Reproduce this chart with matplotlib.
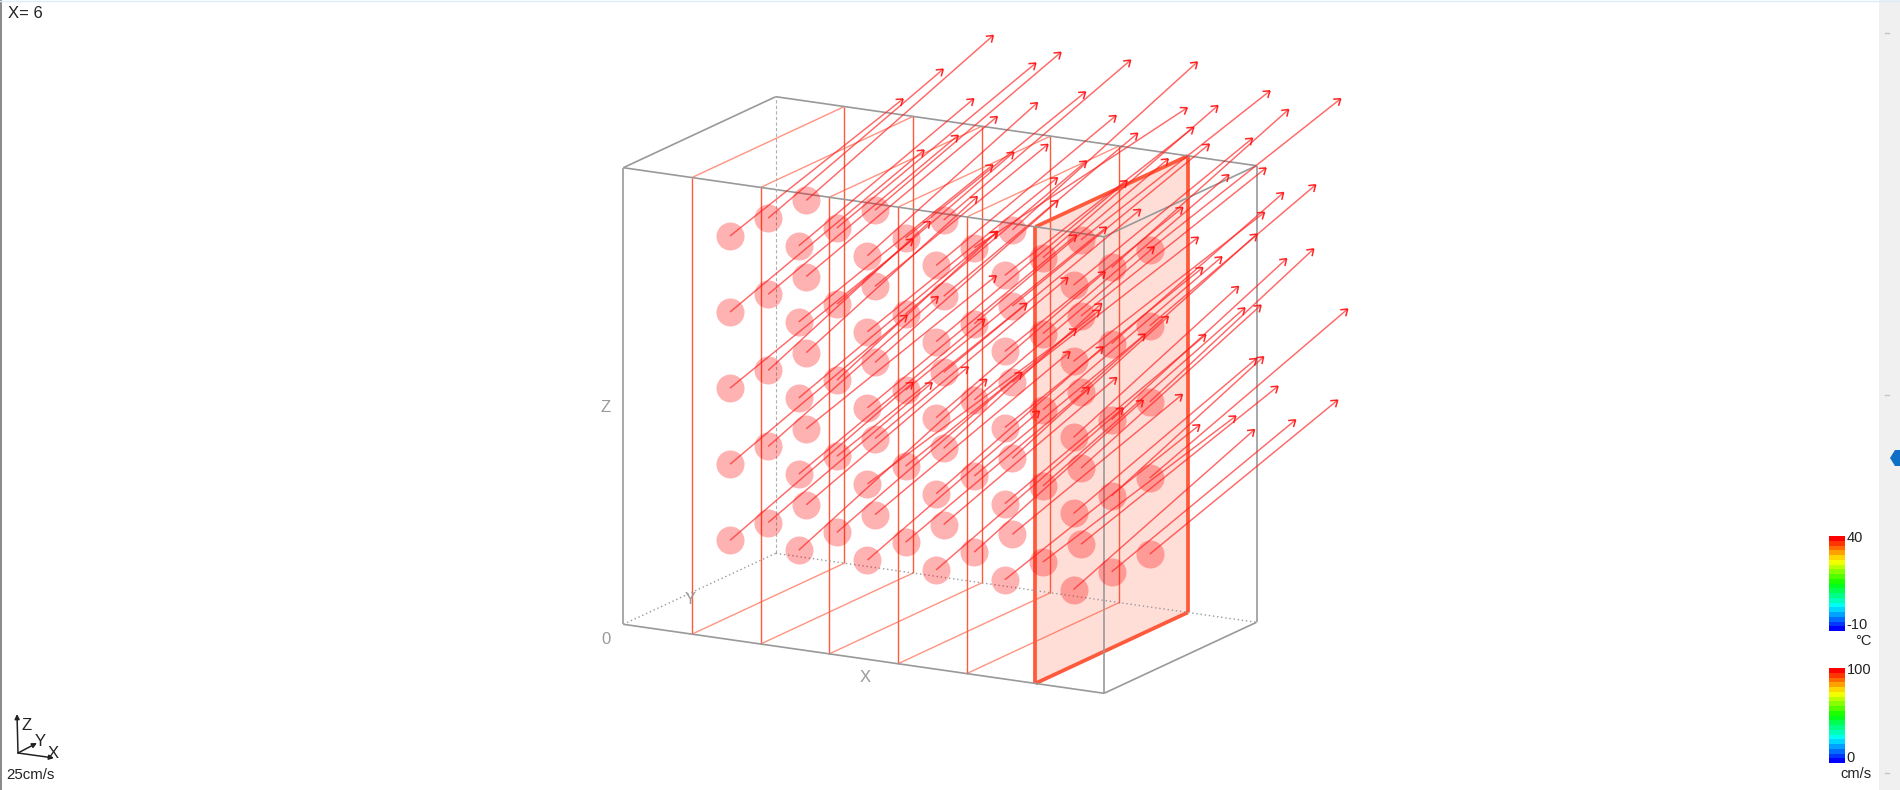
import numpy as np
import matplotlib
matplotlib.use("Agg")
import matplotlib.pyplot as plt
from matplotlib.collections import LineCollection
from matplotlib.colors import LinearSegmentedColormap, Normalize
from matplotlib.cm import ScalarMappable
from matplotlib.patches import Polygon, Rectangle

plt.rcParams['font.family'] = ['Liberation Sans', 'DejaVu Sans']

WIDTH, HEIGHT = 1900, 790

# box and grid, in model units
x_max, y_max, z_max = 7, 4, 6
x_slices = [1, 2, 3, 4, 5, 6]
y_points = [1, 2, 3]
z_points = [1, 2, 3, 4, 5]
current_x = 6

# arrow components, one block per Z level,
# rows are X = 1..6, columns are Y = 1..3
right_z1 = [[183, 164, 162], [188, 185, 195], [172, 184, 173],
            [187, 169, 170], [195, 193, 197], [181, 184, 188]]
up_z1 = [[158, 140, 138], [171, 160, 163], [149, 155, 147],
         [162, 152, 140], [155, 146, 158], [160, 152, 154]]
right_z2 = [[177, 170, 190], [186, 190, 193], [209, 194, 158],
            [167, 171, 156], [201, 202, 180], [183, 152, 198]]
up_z2 = [[149, 150, 153], [155, 153, 161], [155, 156, 145],
         [147, 142, 142], [169, 178, 163], [155, 139, 169]]
right_z3 = [[183, 162, 171], [198, 161, 183], [209, 201, 197],
            [169, 180, 186], [198, 179, 176], [165, 175, 164]]
up_z3 = [[149, 149, 156], [166, 149, 162], [173, 163, 163],
         [146, 153, 145], [160, 153, 158], [151, 161, 153]]
right_z4 = [[194, 190, 191], [194, 177, 173], [190, 181, 194],
            [191, 194, 197], [178, 186, 185], [191, 172, 166]]
up_z4 = [[162, 159, 160], [157, 152, 142], [154, 153, 163],
         [161, 165, 162], [144, 159, 148], [149, 151, 141]]
right_z5 = [[173, 175, 187], [175, 199, 186], [170, 180, 187],
            [180, 213, 185], [189, 175, 189], [179, 177, 191]]
up_z5 = [[137, 149, 165], [147, 165, 158], [153, 146, 160],
         [150, 140, 168], [148, 152, 149], [147, 158, 151]]

right_all = np.array([right_z1, right_z2, right_z3, right_z4, right_z5], float)
up_all = np.array([up_z1, up_z2, up_z3, up_z4, up_z5], float)

temp_range = [-10, 40]
speed_range = [0, 100]
rainbow = ["#0000ff", "#00ffff", "#00ff00", "#ffff00", "#ff0000"]

RED = "#ff2020"
SLICE = "#ff5a3c"
GREY = "#999999"


def project(x, y, z):
    """Oblique view used by the box: model units to picture pixels."""
    px = 623.3 + 480.8 * x / x_max + 152.4 * y / y_max
    py = 624.3 + 69.0 * x / x_max - 71.0 * y / y_max - 456.6 * z / z_max
    return px, py


def edge(p0, p1):
    return [project(*p0), project(*p1)]


fig = plt.figure(figsize=(WIDTH / 100, HEIGHT / 100), dpi=100)
ax = fig.add_axes([0, 0, 1, 1])
ax.set_xlim(0, WIDTH)
ax.set_ylim(HEIGHT, 0)
ax.axis("off")

# window frame around the plot
ax.add_patch(Rectangle((1879, 0), 21, HEIGHT, color="#f0f0f0", lw=0, zorder=0))
ax.add_patch(Rectangle((0, 0), 2, HEIGHT, color="#8c8c8c", lw=0, zorder=0))
ax.plot([0, WIDTH], [0.5, 0.5], color="#d8eef8", lw=1, zorder=0)
ax.add_patch(Polygon([(1890, 458), (1895, 450), (1900, 450), (1900, 466), (1895, 466)],
                     color="#0f6fc6", lw=0, zorder=1))
for ym in [33, 395, 773]:
    ax.plot([1885, 1889], [ym, ym], color="#c4c4c4", lw=1, zorder=1)

# selected slice
corners = [project(current_x, 0, 0), project(current_x, y_max, 0),
           project(current_x, y_max, z_max), project(current_x, 0, z_max)]
ax.add_patch(Polygon(corners, closed=True, facecolor=SLICE, alpha=0.2, lw=0, zorder=2))

# slice outlines
for xs in x_slices:
    uprights = [edge((xs, 0, 0), (xs, 0, z_max)), edge((xs, y_max, 0), (xs, y_max, z_max))]
    rails = [edge((xs, 0, 0), (xs, y_max, 0)), edge((xs, 0, z_max), (xs, y_max, z_max))]
    if xs == current_x:
        ax.add_collection(LineCollection(uprights + rails, colors=SLICE, linewidths=2.7, zorder=3))
    else:
        ax.add_collection(LineCollection(uprights, colors=SLICE, linewidths=1.0, zorder=3))
        ax.add_collection(LineCollection(rails, colors=SLICE, linewidths=1.0, alpha=0.65, zorder=3))

# box
solid = [edge((0, 0, 0), (x_max, 0, 0)), edge((0, 0, z_max), (x_max, 0, z_max)),
         edge((0, y_max, z_max), (x_max, y_max, z_max)), edge((0, 0, 0), (0, 0, z_max)),
         edge((x_max, 0, 0), (x_max, 0, z_max)), edge((x_max, y_max, 0), (x_max, y_max, z_max)),
         edge((0, 0, z_max), (0, y_max, z_max)), edge((x_max, 0, z_max), (x_max, y_max, z_max)),
         edge((x_max, 0, 0), (x_max, y_max, 0))]
ax.add_collection(LineCollection(solid, colors=GREY, linewidths=1.2, zorder=4))
ax.add_collection(LineCollection([edge((0, y_max, 0), (0, y_max, z_max))], colors="#b0b0b0",
                                 linewidths=0.8, linestyles=(0, (3, 2)), zorder=4))
ax.add_collection(LineCollection([edge((0, 0, 0), (0, y_max, 0)), edge((0, y_max, 0), (x_max, y_max, 0))],
                                 colors=GREY, linewidths=1.0, linestyles=(0, (1, 2)), zorder=4))

# points and arrows
zz, xx, yy = np.meshgrid(z_points, x_slices, y_points, indexing="ij")
px, py = project(xx.ravel(), yy.ravel(), zz.ravel())
ax.scatter(px, py, s=407, color="#ff0000", alpha=0.3, linewidths=0, zorder=5)

tip_x = px + right_all.ravel()
tip_y = py - up_all.ravel()
shafts = [[(a, b), (c, d)] for a, b, c, d in zip(px, py, tip_x, tip_y)]
ax.add_collection(LineCollection(shafts, colors=RED, linewidths=1.05, alpha=0.68, zorder=6))

heads = []
head_len = 7.5
for a, b, c, d in zip(px, py, tip_x, tip_y):
    ang = np.arctan2(b - d, a - c)
    for turn in [-0.6, 0.6]:
        heads.append([(c, d), (c + head_len * np.cos(ang + turn), d + head_len * np.sin(ang + turn))])
ax.add_collection(LineCollection(heads, colors="#ff1010", linewidths=1.1, alpha=0.9, zorder=7))

# axis names
ax.text(606, 407, "Z", color="#999999", fontsize=12, ha="center", va="center")
ax.text(606, 639, "0", color="#999999", fontsize=12, ha="center", va="center")
ax.text(865, 677, "X", color="#999999", fontsize=12, ha="center", va="center")
ax.text(690, 600, "Y", color="#999999", fontsize=12, ha="center", va="center")

ax.text(8, 14, "X= 6", color="#222222", fontsize=12, ha="left", va="center")
ax.text(6, 775, "25cm/s", color="#222222", fontsize=10.8, ha="left", va="center")

# orientation triad
origin = (18, 753)
for tip in [(17, 714), (37, 743), (54, 758)]:
    ax.annotate("", xy=tip, xytext=origin,
                arrowprops=dict(arrowstyle="-|>", color="#222222", lw=1.1, mutation_scale=7,
                                shrinkA=0, shrinkB=0))
ax.text(27, 725, "Z", color="#222222", fontsize=12, ha="center", va="center")
ax.text(40, 741, "Y", color="#222222", fontsize=12, ha="center", va="center")
ax.text(53, 753, "X", color="#222222", fontsize=12, ha="center", va="center")

# colour scales
cmap = LinearSegmentedColormap.from_list("scale", rainbow, N=20)
for rng, top, bottom in [(temp_range, 536, 631), (speed_range, 668, 763)]:
    cax = fig.add_axes([1829 / WIDTH, 1 - bottom / HEIGHT, 16 / WIDTH, (bottom - top) / HEIGHT])
    cb = fig.colorbar(ScalarMappable(Normalize(*rng), cmap), cax=cax)
    cb.set_ticks([])
    cb.outline.set_visible(False)

for label, x, y in [("40", 1847, 538), ("-10", 1846, 625), ("100", 1847, 670), ("0", 1846, 758)]:
    ax.text(x, y, label, color="#222222", fontsize=10.5, ha="left", va="center")
ax.text(1863, 641, "°C", color="#222222", fontsize=10.5, ha="center", va="center")
ax.text(1856, 774, "cm/s", color="#222222", fontsize=10.5, ha="center", va="center")

fig.savefig("out.png", dpi=100)
